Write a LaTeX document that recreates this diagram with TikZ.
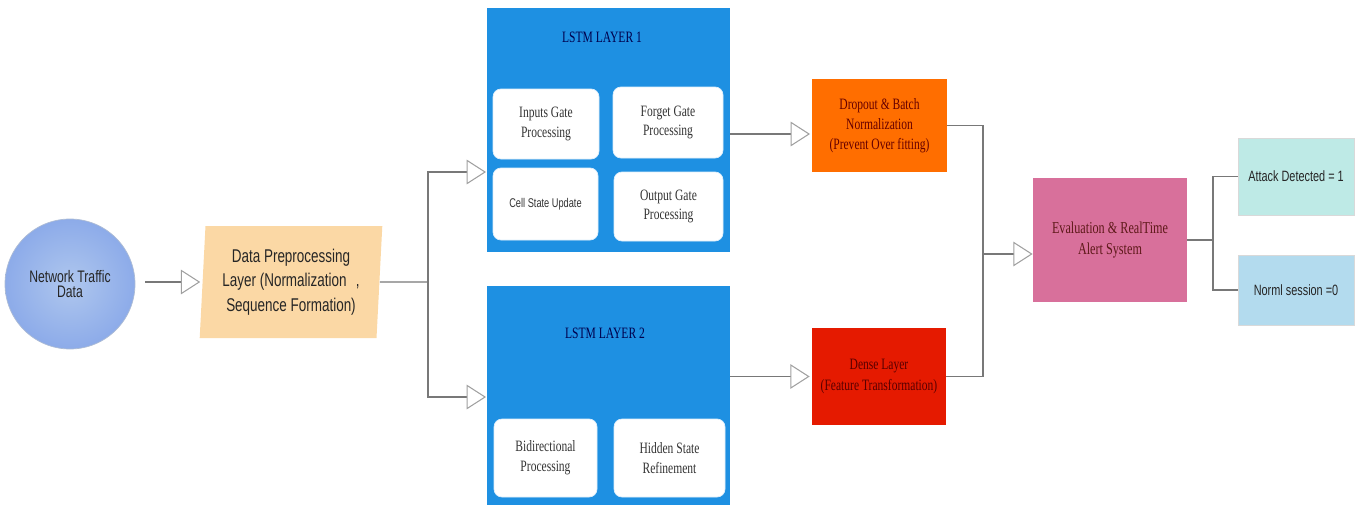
\documentclass[tikz,border=0pt]{standalone}
\usepackage{fontspec}
\setmainfont{Liberation Serif}[FakeStretch=0.73]
\newfontfamily\arialc{Liberation Sans}[FakeStretch=0.73]
\usetikzlibrary{shapes.geometric,arrows.meta}
\newlength\px
\setlength\px{0.02cm}
\definecolor{netblue}{RGB}{148,180,232}
\definecolor{prepfill}{RGB}{251,216,165}
\definecolor{lstmblue}{RGB}{30,144,226}
\definecolor{dropfill}{RGB}{255,110,0}
\definecolor{densefill}{RGB}{229,26,0}
\definecolor{evalfill}{RGB}{216,112,155}
\definecolor{attackfill}{RGB}{190,234,230}
\definecolor{normalfill}{RGB}{179,219,238}
\definecolor{linegray}{RGB}{120,120,120}
\definecolor{tipgray}{RGB}{160,160,160}
\begin{document}
\begin{tikzpicture}[x=0.02cm,y=-0.02cm]
			\tikzstyle{line}=[draw=linegray,line width=0.7pt]
			\tikzstyle{arr}=[line,-{Triangle[open,length=11pt,width=14pt,color=tipgray,line width=0.6pt]}]
			\tikzstyle{layer}=[rectangle,fill=lstmblue,inner sep=0pt]
			\tikzstyle{gate}=[rectangle,rounded corners=8\px,fill=white,draw=white!85!lstmblue,align=center,inner sep=1pt,font=\fontsize{9}{11.3}\selectfont,text=black!80]
			\tikzstyle{block}=[rectangle,align=center,inner sep=1pt,font=\fontsize{9}{11.5}\selectfont]
			\tikzstyle{result}=[rectangle,draw=black!15,align=center,inner sep=1pt,font=\arialc\fontsize{8.5}{10}\selectfont,text=black!85]
			\useasboundingbox (0,0) rectangle (1355,507);

			% input side
			\node[circle,inner color=netblue!75!white,outer color=netblue!95!blue,draw=netblue!80!black!60,minimum size=130\px,align=center,font=\arialc\fontsize{9.5}{9}\selectfont,text=black!85] (net) at (70,284) {Network Traffic\\Data};
			\node[trapezium,trapezium left angle=86,trapezium right angle=94,trapezium stretches=true,minimum width=184\px,minimum height=112\px,fill=prepfill,align=center,inner sep=0pt,font=\arialc\fontsize{10.5}{14}\selectfont,text=black!85] (prep) at (291,282) {Data Preprocessing\\Layer (Normalization\enspace,\\Sequence Formation)};

			% lstm layers
			\node[layer,minimum width=243\px,minimum height=244\px] (lstm1) at (608.5,130) {};
			\node[text=blue!30!black,font=\fontsize{9}{11}\selectfont] (t1) at (602,37) {LSTM LAYER 1};
			\node[gate,minimum width=106\px,minimum height=70\px] (ig) at (546,124) {Inputs Gate\\Processing};
			\node[gate,minimum width=110\px,minimum height=71\px] (fg) at (668,122.5) {Forget Gate\\Processing};
			\node[gate,minimum width=105\px,minimum height=72\px,font=\arialc\fontsize{7.2}{9}\selectfont] (cs) at (545.5,204) {Cell State Update};
			\node[gate,minimum width=109\px,minimum height=69\px] (og) at (668.5,206.5) {Output Gate\\Processing};

			\node[layer,minimum width=243\px,minimum height=219\px] (lstm2) at (608.5,395.5) {};
			\node[text=blue!30!black,font=\fontsize{9}{11}\selectfont] (t2) at (605,333) {LSTM LAYER 2};
			\node[gate,minimum width=103\px,minimum height=78\px] (bd) at (545.5,458) {Bidirectional\\Processing};
			\node[gate,minimum width=111\px,minimum height=78\px] (hs) at (669.5,458) {Hidden State\\Refinement};

			% after lstm
			\node[block,fill=dropfill,minimum width=135\px,minimum height=93\px,text=red!40!black] (drop) at (879.5,125.5) {Dropout \& Batch\\Normalization\\(Prevent Over fitting)};
			\node[block,fill=densefill,minimum width=134\px,minimum height=97\px,text=red!35!black] (dense) at (879,376.5) {Dense Layer\\(Feature Transformation)};
			\node[block,fill=evalfill,minimum width=154\px,minimum height=124\px,text=red!30!black!90,font=\fontsize{9.5}{12}\selectfont] (eval) at (1110,240) {Evaluation \& RealTime\\Alert System};
			\node[result,fill=attackfill,minimum width=116\px,minimum height=77\px] (attack) at (1296,176.5) {Attack Detected = 1};
			\node[result,fill=normalfill,minimum width=116\px,minimum height=70\px] (normal) at (1296,290) {Norml session =0};

			% free ends of connectors
			\coordinate (sp1) at (428,282);
			\coordinate (in1) at (486,172);
			\coordinate (in2) at (486,397);
			\coordinate (in3) at (810,134);
			\coordinate (mg) at (983,254);
			\coordinate (br) at (1213,240);

			\draw[arr,shorten <=10\px,shorten >=2\px] (net.east |- prep.west) -- (prep.west);
			\draw[line] (prep.east) -- (sp1);
			\draw[arr] (sp1) |- (in1);
			\draw[arr] (sp1) |- (in2);
			\draw[arr] (lstm1.east |- in3) -- (in3);
			\draw[arr,shorten >=2\px] (lstm2.east |- dense.west) -- (dense.west);
			\draw[line] (drop.east) -| (mg) |- (dense.east);
			\draw[arr] (mg) -- (mg -| eval.west);
			\draw[line] (eval.east) -- (br);
			\draw[line] (br) |- (attack.west);
			\draw[line] (br) |- (normal.west);
		\end{tikzpicture}
\end{document}
